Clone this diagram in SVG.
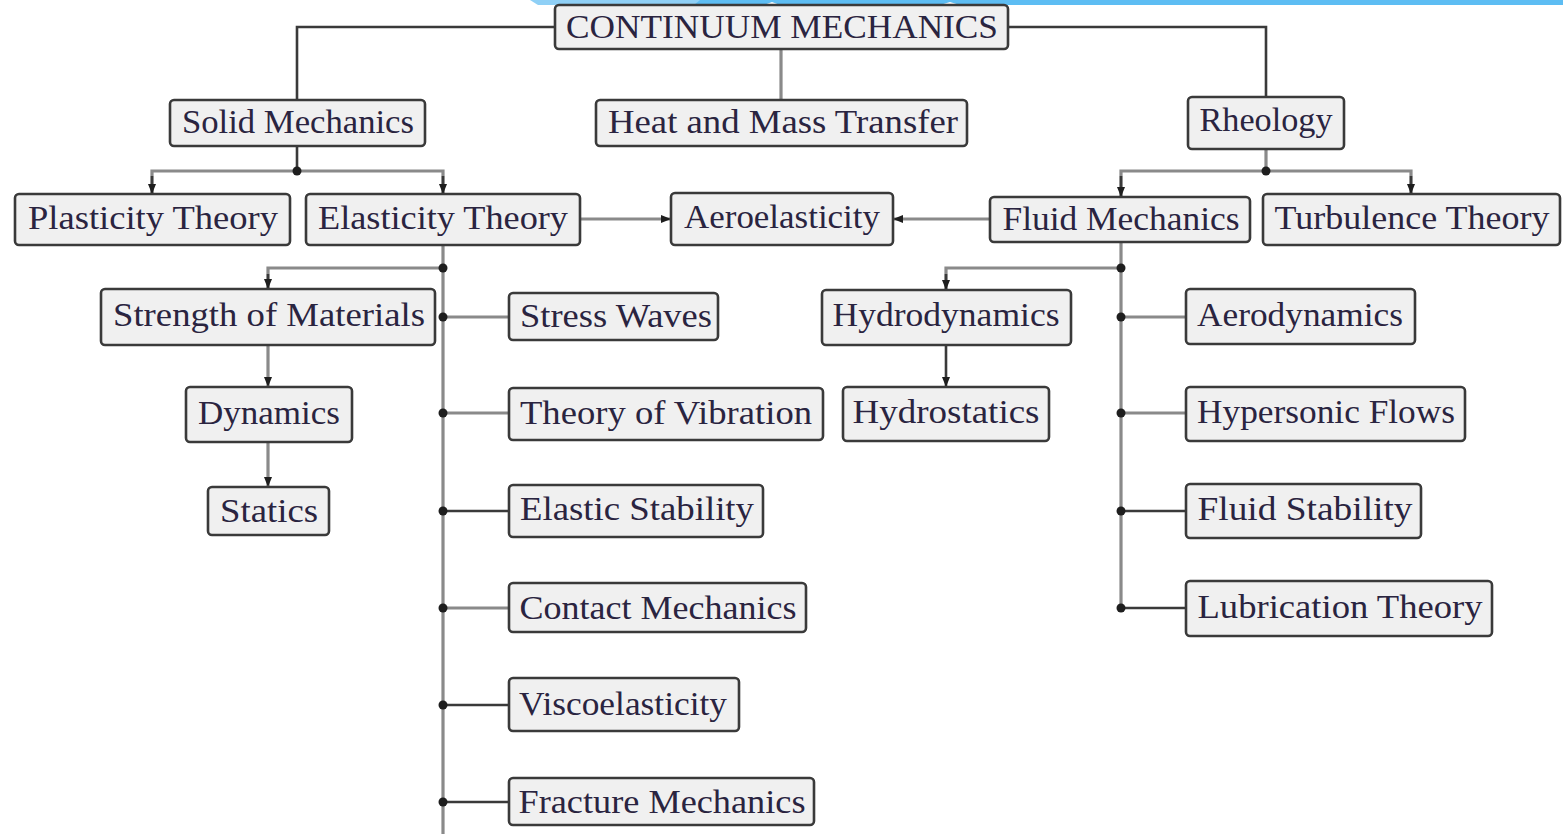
<svg xmlns="http://www.w3.org/2000/svg" width="1563" height="834" viewBox="0 0 1563 834">
<style>
.box{fill:#f0f0f0;stroke:#3a3a3a;stroke-width:2.6}
.t{font-family:'Liberation Serif','Times New Roman','DejaVu Serif','Noto Serif',Times,serif;font-size:33px;fill:#2a2440;text-anchor:middle}
.c{fill:none;stroke:#3a3a3a;stroke-width:2.6}
.g{fill:none;stroke:#8a8a8a;stroke-width:3.2}
.dot{fill:#1e1e1e}
</style>
<defs>
<marker id="ah" viewBox="0 0 10 10" refX="10" refY="5" markerWidth="10" markerHeight="10" markerUnits="userSpaceOnUse" orient="auto">
<path d="M0,1 L10,5 L0,9 Z" fill="#1e1e1e"/>
</marker>
</defs>
<rect width="1563" height="834" fill="#ffffff"/>
<g id="band">
<polygon points="530,0 712,0 706,5 538,5" fill="#8fd0f6"/>
<polygon points="700,0 1563,0 1563,5 694,5" fill="#5dbdf3"/>
<polygon points="764,5 772,2 780,5" fill="#ffffff"/>
<polygon points="940,5 950,2 960,5" fill="#ffffff"/>
</g>
<g id="connectors">
<polyline class="c" points="555,27 297,27 297,100"/>
<line class="g" x1="781" y1="49" x2="781" y2="100"/>
<polyline class="c" points="1008,27 1266,27 1266,97"/>
<line class="c" x1="297" y1="146" x2="297" y2="171"/>
<polyline class="g" points="152,194 152,171 443,171 443,194"/>
<line class="c" x1="152" y1="176" x2="152" y2="194" marker-end="url(#ah)"/>
<line class="c" x1="443" y1="176" x2="443" y2="194" marker-end="url(#ah)"/>
<circle class="dot" cx="297" cy="171" r="4.5"/>
<line class="g" x1="580" y1="219" x2="671" y2="219" marker-end="url(#ah)"/>
<line class="g" x1="990" y1="219" x2="893" y2="219" marker-end="url(#ah)"/>
<line class="g" x1="1266" y1="149" x2="1266" y2="171"/>
<polyline class="g" points="1121,197 1121,171 1411,171 1411,194"/>
<line class="c" x1="1121" y1="176" x2="1121" y2="197" marker-end="url(#ah)"/>
<line class="c" x1="1411" y1="176" x2="1411" y2="194" marker-end="url(#ah)"/>
<circle class="dot" cx="1266" cy="171" r="4.5"/>
<line class="g" x1="443" y1="245" x2="443" y2="834"/>
<polyline class="g" points="443,268 268,268 268,289"/>
<line class="c" x1="268" y1="274" x2="268" y2="289" marker-end="url(#ah)"/>
<line class="g" x1="268" y1="345" x2="268" y2="387" marker-end="url(#ah)"/>
<line class="g" x1="268" y1="442" x2="268" y2="487" marker-end="url(#ah)"/>
<line class="g" x1="443" y1="317" x2="509" y2="317"/>
<line class="g" x1="443" y1="413" x2="509" y2="413"/>
<line class="c" x1="443" y1="511" x2="509" y2="511"/>
<line class="g" x1="443" y1="608" x2="509" y2="608"/>
<line class="c" x1="443" y1="705" x2="509" y2="705"/>
<line class="c" x1="443" y1="802" x2="509" y2="802"/>
<circle class="dot" cx="443" cy="268" r="4.5"/>
<circle class="dot" cx="443" cy="317" r="4.5"/>
<circle class="dot" cx="443" cy="413" r="4.5"/>
<circle class="dot" cx="443" cy="511" r="4.5"/>
<circle class="dot" cx="443" cy="608" r="4.5"/>
<circle class="dot" cx="443" cy="705" r="4.5"/>
<circle class="dot" cx="443" cy="802" r="4.5"/>
<line class="g" x1="1121" y1="242" x2="1121" y2="608"/>
<polyline class="g" points="1121,268 946,268 946,290"/>
<line class="c" x1="946" y1="274" x2="946" y2="290" marker-end="url(#ah)"/>
<line class="c" x1="946" y1="345" x2="946" y2="387" marker-end="url(#ah)"/>
<line class="g" x1="1121" y1="317" x2="1186" y2="317"/>
<line class="g" x1="1121" y1="413" x2="1186" y2="413"/>
<line class="c" x1="1121" y1="511" x2="1186" y2="511"/>
<line class="c" x1="1121" y1="608" x2="1186" y2="608"/>
<circle class="dot" cx="1121" cy="268" r="4.5"/>
<circle class="dot" cx="1121" cy="317" r="4.5"/>
<circle class="dot" cx="1121" cy="413" r="4.5"/>
<circle class="dot" cx="1121" cy="511" r="4.5"/>
<circle class="dot" cx="1121" cy="608" r="4.5"/>
</g>
<g id="n-continuum"><rect class="box" x="555" y="5" width="453" height="44" rx="4"/><text class="t" x="782" y="38" textLength="432" lengthAdjust="spacingAndGlyphs">CONTINUUM MECHANICS</text></g>
<g id="n-solid"><rect class="box" x="170" y="100" width="255" height="46" rx="4"/><text class="t" x="298" y="133" textLength="232" lengthAdjust="spacingAndGlyphs">Solid Mechanics</text></g>
<g id="n-heat"><rect class="box" x="596" y="100" width="371" height="46" rx="4"/><text class="t" x="783" y="133" textLength="350" lengthAdjust="spacingAndGlyphs">Heat and Mass Transfer</text></g>
<g id="n-rheology"><rect class="box" x="1188" y="97" width="156" height="52" rx="4"/><text class="t" x="1266" y="131" textLength="133" lengthAdjust="spacingAndGlyphs">Rheology</text></g>
<g id="n-plasticity"><rect class="box" x="15" y="194" width="275" height="51" rx="4"/><text class="t" x="153" y="229" textLength="250" lengthAdjust="spacingAndGlyphs">Plasticity Theory</text></g>
<g id="n-elasticity"><rect class="box" x="306" y="194" width="274" height="51" rx="4"/><text class="t" x="443" y="229" textLength="250" lengthAdjust="spacingAndGlyphs">Elasticity Theory</text></g>
<g id="n-aeroelasticity"><rect class="box" x="671" y="193" width="222" height="52" rx="4"/><text class="t" x="782" y="228" textLength="196" lengthAdjust="spacingAndGlyphs">Aeroelasticity</text></g>
<g id="n-fluid"><rect class="box" x="990" y="197" width="260" height="45" rx="4"/><text class="t" x="1121" y="230" textLength="237" lengthAdjust="spacingAndGlyphs">Fluid Mechanics</text></g>
<g id="n-turbulence"><rect class="box" x="1263" y="194" width="297" height="51" rx="4"/><text class="t" x="1412" y="229" textLength="275" lengthAdjust="spacingAndGlyphs">Turbulence Theory</text></g>
<g id="n-strength"><rect class="box" x="101" y="289" width="334" height="56" rx="4"/><text class="t" x="269" y="326" textLength="312" lengthAdjust="spacingAndGlyphs">Strength of Materials</text></g>
<g id="n-stresswaves"><rect class="box" x="509" y="293" width="209" height="47" rx="4"/><text class="t" x="616" y="327" textLength="192" lengthAdjust="spacingAndGlyphs">Stress Waves</text></g>
<g id="n-dynamics"><rect class="box" x="186" y="387" width="166" height="55" rx="4"/><text class="t" x="269" y="424" textLength="142" lengthAdjust="spacingAndGlyphs">Dynamics</text></g>
<g id="n-vibration"><rect class="box" x="509" y="388" width="314" height="52" rx="4"/><text class="t" x="666" y="424" textLength="292" lengthAdjust="spacingAndGlyphs">Theory of Vibration</text></g>
<g id="n-statics"><rect class="box" x="208" y="487" width="121" height="48" rx="4"/><text class="t" x="269" y="522" textLength="98" lengthAdjust="spacingAndGlyphs">Statics</text></g>
<g id="n-elasticstability"><rect class="box" x="509" y="485" width="254" height="52" rx="4"/><text class="t" x="637" y="520" textLength="234" lengthAdjust="spacingAndGlyphs">Elastic Stability</text></g>
<g id="n-contact"><rect class="box" x="509" y="583" width="297" height="49" rx="4"/><text class="t" x="658" y="619" textLength="277" lengthAdjust="spacingAndGlyphs">Contact Mechanics</text></g>
<g id="n-visco"><rect class="box" x="509" y="678" width="230" height="53" rx="4"/><text class="t" x="623" y="715" textLength="208" lengthAdjust="spacingAndGlyphs">Viscoelasticity</text></g>
<g id="n-fracture"><rect class="box" x="509" y="778" width="305" height="47" rx="4"/><text class="t" x="662" y="813" textLength="287" lengthAdjust="spacingAndGlyphs">Fracture Mechanics</text></g>
<g id="n-hydrodynamics"><rect class="box" x="822" y="290" width="249" height="55" rx="4"/><text class="t" x="946" y="326" textLength="227" lengthAdjust="spacingAndGlyphs">Hydrodynamics</text></g>
<g id="n-hydrostatics"><rect class="box" x="843" y="387" width="206" height="54" rx="4"/><text class="t" x="946" y="423" textLength="187" lengthAdjust="spacingAndGlyphs">Hydrostatics</text></g>
<g id="n-aerodynamics"><rect class="box" x="1186" y="289" width="229" height="55" rx="4"/><text class="t" x="1300" y="326" textLength="206" lengthAdjust="spacingAndGlyphs">Aerodynamics</text></g>
<g id="n-hypersonic"><rect class="box" x="1186" y="387" width="279" height="54" rx="4"/><text class="t" x="1326" y="423" textLength="258" lengthAdjust="spacingAndGlyphs">Hypersonic Flows</text></g>
<g id="n-fluidstability"><rect class="box" x="1186" y="484" width="235" height="54" rx="4"/><text class="t" x="1305" y="520" textLength="215" lengthAdjust="spacingAndGlyphs">Fluid Stability</text></g>
<g id="n-lubrication"><rect class="box" x="1186" y="581" width="306" height="55" rx="4"/><text class="t" x="1340" y="618" textLength="285" lengthAdjust="spacingAndGlyphs">Lubrication Theory</text></g>
</svg>
